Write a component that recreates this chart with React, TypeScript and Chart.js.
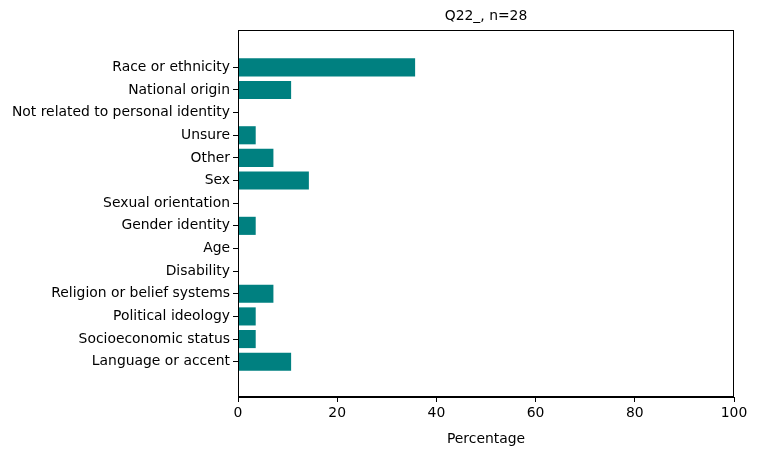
import Chart from 'chart.js/auto';
import React, { useEffect, useRef } from 'react';

const categories = [
  'Race or ethnicity',
  'National origin',
  'Not related to personal identity',
  'Unsure',
  'Other',
  'Sex',
  'Sexual orientation',
  'Gender identity',
  'Age',
  'Disability',
  'Religion or belief systems',
  'Political ideology',
  'Socioeconomic status',
  'Language or accent',
];
const percentages = [35.71, 10.71, 0, 3.57, 7.14, 14.29, 0, 3.57, 0, 0, 7.14, 3.57, 3.57, 10.71];
const xTicks = [0, 20, 40, 60, 80, 100];
const titleText = 'Q22_, n=28';

const FONT = "'DejaVu Sans', sans-serif";
const SIZE = 13.9;

// frame around the plot plus a title centred over the plot area
const boxPlugin = {
  id: 'box',
  afterDraw(chart: any) {
    const { ctx, chartArea: a } = chart;
    ctx.save();
    ctx.strokeStyle = '#000';
    ctx.lineWidth = 1;
    ctx.strokeRect(a.left + 0.5, a.top + 0.5, a.right - a.left - 1, a.bottom - a.top - 1);
    ctx.fillStyle = '#000';
    ctx.font = `${SIZE}px ${FONT}`;
    ctx.textAlign = 'center';
    ctx.textBaseline = 'bottom';
    ctx.fillText(titleText, (a.left + a.right) / 2, a.top - 7);
    ctx.restore();
  },
};

export default function App() {
  const ref = useRef<HTMLCanvasElement>(null);

  useEffect(() => {
    document.body.style.margin = '0';
    const chart = new Chart(ref.current!, {
      type: 'bar',
      data: {
        datasets: [
          {
            data: percentages.map((v, i) => ({ x: v, y: i })),
            backgroundColor: '#008080',
            barPercentage: 0.8,
            categoryPercentage: 1,
          },
        ],
      },
      options: {
        indexAxis: 'y',
        animation: false,
        responsive: false,
        layout: { padding: { right: 23, top: 30, left: 0, bottom: 0 } },
        plugins: {
          legend: { display: false },
          tooltip: { enabled: false },
          title: { display: false },
        },
        scales: {
          y: {
            type: 'linear',
            reverse: true,
            min: -1.07,
            max: 13.98,
            afterBuildTicks: (s: any) => {
              s.ticks = categories.map((_, i) => ({ value: i }));
            },
            afterFit: (s: any) => {
              s.width = 238;
            },
            ticks: {
              autoSkip: false,
              color: '#000',
              font: { family: FONT, size: SIZE },
              callback: (v: any) => categories[v] ?? '',
            },
            grid: { offset: false, drawOnChartArea: false, tickLength: 5, tickColor: '#000' },
            border: { color: '#000' },
          },
          x: {
            type: 'linear',
            min: 0,
            max: 100,
            afterBuildTicks: (s: any) => {
              s.ticks = xTicks.map((v) => ({ value: v }));
            },
            afterFit: (s: any) => {
              s.height = 55;
            },
            ticks: { color: '#000', font: { family: FONT, size: SIZE } },
            grid: { offset: false, drawOnChartArea: false, tickLength: 5, tickColor: '#000' },
            border: { color: '#000' },
            title: {
              display: true,
              text: 'Percentage',
              color: '#000',
              font: { family: FONT, size: SIZE },
              padding: { top: 0 },
            },
          },
        },
      },
      plugins: [boxPlugin],
    });
    return () => chart.destroy();
  }, []);

  return (
    <div style={{ width: 757, height: 452 }}>
      <canvas ref={ref} width={757} height={452} />
    </div>
  );
}
